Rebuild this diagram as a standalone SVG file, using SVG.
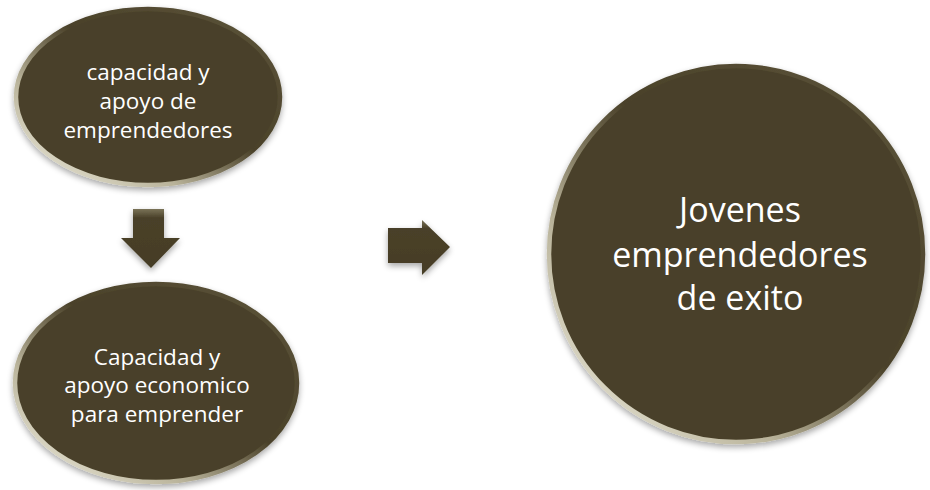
<svg xmlns="http://www.w3.org/2000/svg" width="930" height="490" viewBox="0 0 930 490">
  <defs>
    <linearGradient id="rim" x1="0" y1="1" x2="1" y2="0">
      <stop offset="0" stop-color="#f2f0e2"/>
      <stop offset="0.3" stop-color="#b9b39a"/>
      <stop offset="0.55" stop-color="#4a4129"/>
      <stop offset="1" stop-color="#5e563c"/>
    </linearGradient>
    <linearGradient id="arrowFill" x1="0" y1="0" x2="0" y2="1">
      <stop offset="0" stop-color="#7a7358"/>
      <stop offset="0.15" stop-color="#4a4129"/>
      <stop offset="1" stop-color="#453c25"/>
    </linearGradient>
    <filter id="shadow" x="-20%" y="-20%" width="140%" height="140%">
      <feGaussianBlur in="SourceAlpha" stdDeviation="3"/>
      <feOffset dx="0" dy="3" result="b"/>
      <feComponentTransfer><feFuncA type="linear" slope="0.35"/></feComponentTransfer>
      <feMerge><feMergeNode/><feMergeNode in="SourceGraphic"/></feMerge>
    </filter>
    <style>
      .node { fill: #4a4129; stroke: url(#rim); stroke-width: 4.5; filter: url(#shadow); }
      .arrow { fill: url(#arrowFill); filter: url(#shadow); }
      .lbl { fill: #ffffff; font-family: "Open Sans", "Liberation Sans", sans-serif; text-anchor: middle; }
      .small { font-size: 22.5px; }
      .big { font-size: 34px; }
    </style>
  </defs>
  <rect width="930" height="490" fill="#ffffff"/>

  <g id="node-top">
    <ellipse class="node" cx="148" cy="97" rx="132" ry="88"/>
    <text class="lbl small" x="148" y="80">capacidad y</text>
    <text class="lbl small" x="148" y="109">apoyo de</text>
    <text class="lbl small" x="148" y="138">emprendedores</text>
  </g>

  <g id="node-bottom">
    <ellipse class="node" cx="156" cy="383" rx="141" ry="99"/>
    <text class="lbl small" x="157" y="365">Capacidad y</text>
    <text class="lbl small" x="157" y="393">apoyo economico</text>
    <text class="lbl small" x="157" y="422">para emprender</text>
  </g>

  <g id="node-result">
    <ellipse class="node" cx="736" cy="254" rx="187" ry="188"/>
    <text class="lbl big" x="740" y="222">Jovenes</text>
    <text class="lbl big" x="740" y="267">emprendedores</text>
    <text class="lbl big" x="740" y="310">de exito</text>
  </g>

  <g id="connectors">
    <polygon class="arrow" points="133,209 164,209 164,238 180,238 151,268 121,238 133,238"/>
    <polygon class="arrow" points="388,228 422,228 422,220 450,247 422,275 422,263 388,263"/>
  </g>
</svg>
